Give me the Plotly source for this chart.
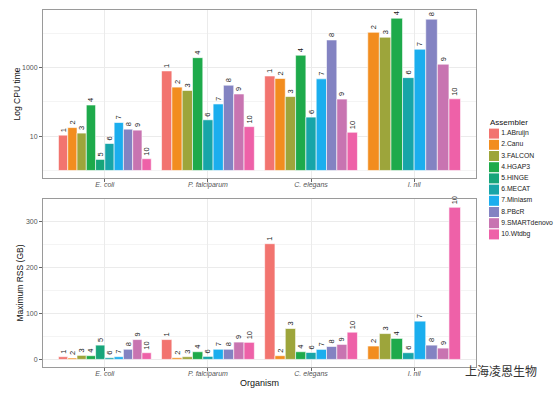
import plotly.graph_objects as go

# ---------------- data ----------------
organisms = ["E. coli", "P. falciparum", "C. elegans", "I. nil"]
assemblers = ["1.ABruijn", "2.Canu", "3.FALCON", "4.HGAP3", "5.HINGE",
              "6.MECAT", "7.Miniasm", "8.PBcR", "9.SMARTdenovo", "10.Wtdbg"]
bar_labels = ["1", "2", "3", "4", "5", "6", "7", "8", "9", "10"]
colors = ["#F2746F", "#F28D1F", "#9DA53B", "#1EAA4B", "#17A57A",
          "#17A5A8", "#1BAEEE", "#8383C2", "#C874B1", "#EE61A8"]

# CPU time (log scale), rows = assemblers, columns = organisms
cpu_time = [
    [10.7, 800, 570, None],
    [17.8, 270, 480, 10700],
    [12.3, 215, 143, 7700],
    [81, 1950, 2300, 27600],
    [2.1, None, None, None],
    [6.1, 30, 36, 510],
    [25, 87, 470, 3440],
    [16, 307, 6400, 25900],
    [15, 170, 121, 1260],
    [2.2, 19, 13, 123],
]

# Maximum RSS (GB)
max_rss = [
    [5.8, 43, 251, None],
    [3, 3.6, 8, 29],
    [8.7, 5.8, 67, 56],
    [8, 16.6, 16.6, 45.5],
    [31, None, None, None],
    [3.6, 6.5, 15, 14.5],
    [5.8, 22, 21.7, 83],
    [22, 22, 28, 31],
    [43, 37.6, 32.5, 24.5],
    [14.5, 37, 59, 330],
]

cpu_ticks = [10, 1000]
cpu_minor = [1, 100, 10000]
rss_ticks = [0, 100, 200, 300]
rss_minor = [50, 150, 250]

# ---------------- helpers ----------------
DODGE = 0.9


def dodge(values):
    """ggplot-like dodge: present bars share the group width."""
    xs = [[None] * len(organisms) for _ in assemblers]
    ws = [[None] * len(organisms) for _ in assemblers]
    for g in range(len(organisms)):
        present = [a for a in range(len(assemblers)) if values[a][g] is not None]
        n = len(present)
        w = DODGE / n
        for k, a in enumerate(present):
            xs[a][g] = g - DODGE / 2 + (k + 0.5) * w
            ws[a][g] = w
    return xs, ws


FONT = "Liberation Sans, Arial, sans-serif"
fig = go.Figure()

cpu_x, cpu_w = dodge(cpu_time)
rss_x, rss_w = dodge(max_rss)

for a, name in enumerate(assemblers):
    # top panel
    idx = [g for g in range(len(organisms)) if cpu_time[a][g] is not None]
    fig.add_trace(go.Bar(
        x=[cpu_x[a][g] for g in idx],
        y=[cpu_time[a][g] - 1 for g in idx],
        base=[1] * len(idx),
        width=[cpu_w[a][g] for g in idx],
        marker=dict(color=colors[a], line=dict(color="white", width=0.6)),
        text=[bar_labels[a]] * len(idx),
        textposition="outside", textangle=-90, constraintext="none",
        textfont=dict(size=7.5, color="#1a1a1a", family=FONT),
        cliponaxis=False, name=name, showlegend=False,
        xaxis="x", yaxis="y",
    ))
    # bottom panel
    idx = [g for g in range(len(organisms)) if max_rss[a][g] is not None]
    fig.add_trace(go.Bar(
        x=[rss_x[a][g] for g in idx],
        y=[max_rss[a][g] for g in idx],
        width=[rss_w[a][g] for g in idx],
        marker=dict(color=colors[a], line=dict(color="white", width=0.6)),
        text=[bar_labels[a]] * len(idx),
        textposition="outside", textangle=-90, constraintext="none",
        textfont=dict(size=7.5, color="#1a1a1a", family=FONT),
        cliponaxis=False, name=name, showlegend=False,
        xaxis="x2", yaxis="y2",
    ))

# custom legend (ggplot-like compact keys)
fig.add_trace(go.Scatter(
    x=[0.086] * len(assemblers), y=list(range(len(assemblers))),
    mode="markers+text",
    marker=dict(symbol="square", size=10, color=colors, line=dict(width=0)),
    text=assemblers, textposition="middle right",
    textfont=dict(size=6.8, color="#222", family=FONT),
    cliponaxis=False, showlegend=False, hoverinfo="skip",
    xaxis="x3", yaxis="y3",
))

W, H = 558, 393
ML, MR, MT, MB = 43, 0, 10, 26
PW = W - ML - MR
PH = H - MT - MB


def xd(px):
    return (px - ML) / PW


def yd(py):
    return (H - MB - py) / PH


grid = "#EBEBEB"
minor_grid = "#F4F4F4"
border = "#9A9A9A"
tickfont = dict(size=7, color="#555", family=FONT)

xcommon = dict(
    range=[-0.6, 3.6], tickmode="array", tickvals=list(range(len(organisms))),
    ticktext=["<i>%s</i>" % o for o in organisms],
    showgrid=True, gridcolor=grid, gridwidth=1, zeroline=False,
    ticks="outside", ticklen=3, tickcolor="#666", tickwidth=0.8,
    ticklabelstandoff=-3,
    showline=True, mirror=True, linecolor=border, linewidth=1,
    tickfont=tickfont, domain=[0, xd(476)],
)

fig.update_layout(
    width=W, height=H,
    margin=dict(l=ML, r=MR, t=MT, b=MB),
    paper_bgcolor="white", plot_bgcolor="white",
    barmode="overlay",
    font=dict(family=FONT),
    xaxis=dict(xcommon, anchor="y"),
    yaxis=dict(
        type="log", range=[-0.22, 4.68], domain=[yd(178), 1],
        tickmode="array", tickvals=cpu_ticks, ticktext=[str(t) for t in cpu_ticks],
        showgrid=True, gridcolor=grid, gridwidth=1, zeroline=False,
        minor=dict(tickmode="array", tickvals=cpu_minor, showgrid=True,
                   gridcolor=minor_grid, gridwidth=0.6, ticks=""),
        ticks="outside", ticklen=3, tickcolor="#666", tickwidth=0.8,
        showline=True, mirror=True, linecolor=border, linewidth=1,
        tickfont=tickfont, anchor="x",
        title=dict(text="Log CPU time", font=dict(size=8.5, color="#111", family=FONT),
                   standoff=0),
    ),
    xaxis2=dict(xcommon, anchor="y2",
                title=dict(text="Organism", font=dict(size=9, color="#111", family=FONT),
                           standoff=2)),
    yaxis2=dict(
        range=[-16.5, 348], domain=[0, yd(199)],
        tickmode="array", tickvals=rss_ticks,
        showgrid=True, gridcolor=grid, gridwidth=1, zeroline=False,
        minor=dict(tickmode="array", tickvals=rss_minor, showgrid=True,
                   gridcolor=minor_grid, gridwidth=0.6, ticks=""),
        ticks="outside", ticklen=3, tickcolor="#666", tickwidth=0.8,
        showline=True, mirror=True, linecolor=border, linewidth=1,
        tickfont=tickfont, anchor="x2",
        title=dict(text="Maximum RSS (GB)", font=dict(size=8.5, color="#111", family=FONT),
                   standoff=0),
    ),
    xaxis3=dict(domain=[xd(488), 1], range=[0, 1], visible=False, anchor="y3",
                fixedrange=True),
    yaxis3=dict(domain=[yd(240), yd(128)], range=[9.5, -0.5], visible=False,
                anchor="x3", fixedrange=True),
    annotations=[
        dict(text="Assembler", xref="paper", yref="paper", x=xd(488), y=yd(122),
             xanchor="left", yanchor="middle", showarrow=False,
             font=dict(size=8, color="#111", family=FONT)),
        dict(text="上海凌恩生物", xref="paper", yref="paper", x=xd(463), y=yd(370),
             xanchor="left", yanchor="middle", showarrow=False,
             font=dict(size=12, color="#333", family="Noto Sans CJK SC")),
    ],
)

fig.write_html("out.html",
               config={"displayModeBar": False},
               post_script="document.body.style.margin='0';document.body.style.overflow='hidden';")
